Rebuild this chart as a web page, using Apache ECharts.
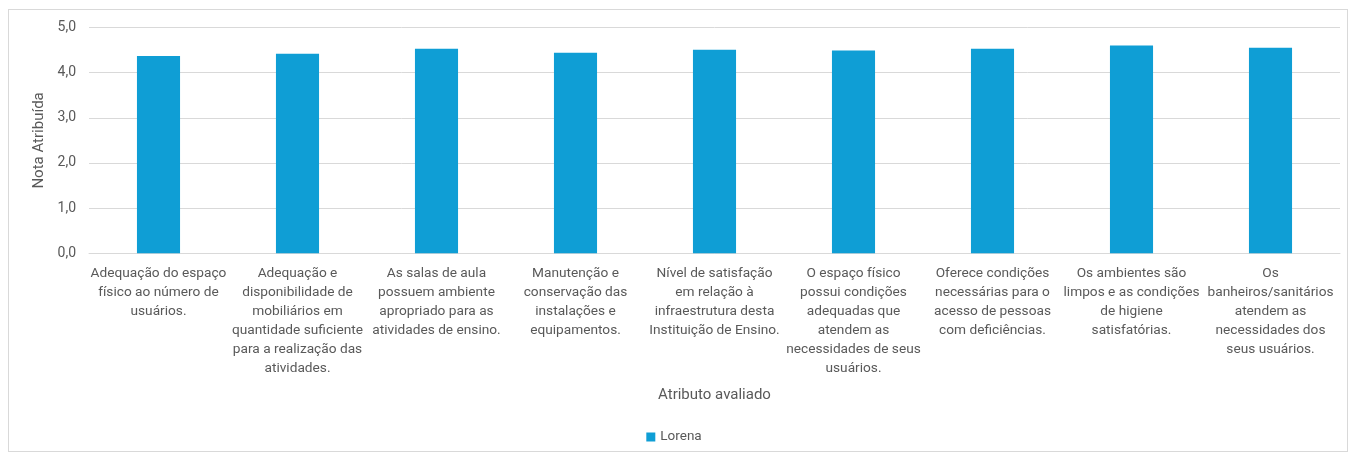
<!DOCTYPE html>
<html>
<head>
<meta charset="utf-8">
<script src="https://cdn.jsdelivr.net/npm/echarts@6/dist/echarts.min.js"></script>
<style>
html,body{margin:0;padding:0;background:#fff;}
#wrap{position:absolute;left:8px;top:9px;width:1340px;height:443px;border:1px solid #d9d9d9;box-sizing:border-box;}
#chart{position:absolute;left:0;top:0;width:1348px;height:454px;}
</style>
</head>
<body>
<div id="wrap"></div>
<div id="chart"></div>
<script>
const categories = [
  "Adequação do espaço\nfísico ao número de\nusuários.",
  "Adequação e\ndisponibilidade de\nmobiliários em\nquantidade suficiente\npara a realização das\natividades.",
  "As salas de aula\npossuem ambiente\napropriado para as\natividades de ensino.",
  "Manutenção e\nconservação das\ninstalações e\nequipamentos.",
  "Nível de satisfação\nem relação à\ninfraestrutura desta\nInstituição de Ensino.",
  "O espaço físico\npossui condições\nadequadas que\natendem as\nnecessidades de seus\nusuários.",
  "Oferece condições\nnecessárias para o\nacesso de pessoas\ncom deficiências.",
  "Os ambientes são\nlimpos e as condições\nde higiene\nsatisfatórias.",
  "Os\nbanheiros/sanitários\natendem as\nnecessidades dos\nseus usuários."
];
const seriesName = "Lorena";
const values = [4.37, 4.42, 4.53, 4.44, 4.51, 4.49, 4.53, 4.60, 4.55];
const yAxisTitle = "Nota Atribuída";
const xAxisTitle = "Atributo avaliado";

const font = "Roboto, 'Noto Sans', sans-serif";
const chart = echarts.init(document.getElementById('chart'), null, {renderer:'canvas'});
chart.setOption({
  animation: false,
  textStyle: {fontFamily: font},
  grid: {left: 89, right: 8, top: 27.5, bottom: 200.7, containLabel: false},
  legend: {
    data: [seriesName], bottom: 5, left: 'center',
    itemWidth: 9, itemHeight: 9, icon: 'rect',
    textStyle: {color: '#595959', fontSize: 13.5, fontFamily: font}
  },
  xAxis: {
    type: 'category', data: categories,
    name: xAxisTitle, nameLocation: 'middle', nameGap: 134,
    nameTextStyle: {color: '#595959', fontSize: 15, fontFamily: font},
    axisLine: {lineStyle: {color: '#d9d9d9'}},
    axisTick: {show: false},
    axisLabel: {interval: 0, color: '#595959', fontSize: 13.7, lineHeight: 19, margin: 11, fontFamily: font}
  },
  yAxis: {
    type: 'value', min: 0, max: 5, interval: 1,
    name: yAxisTitle, nameLocation: 'middle', nameGap: 39,
    nameTextStyle: {color: '#595959', fontSize: 15, fontFamily: font},
    axisLine: {show: false}, axisTick: {show: false},
    splitLine: {lineStyle: {color: '#d9d9d9'}},
    axisLabel: {color: '#595959', fontSize: 14, margin: 13, fontFamily: font,
      formatter: v => v.toFixed(1).replace('.', ',')}
  },
  series: [{
    name: seriesName, type: 'bar', data: values,
    barWidth: '31%', itemStyle: {color: '#0f9ed5'}
  }]
});
</script>
</body>
</html>
